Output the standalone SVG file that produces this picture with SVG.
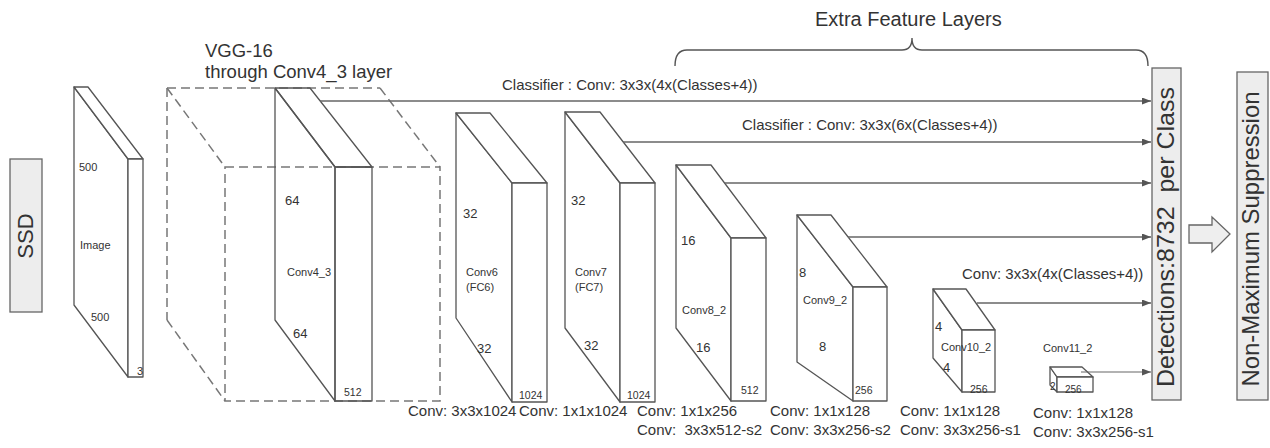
<svg xmlns="http://www.w3.org/2000/svg" width="1270" height="448" viewBox="0 0 1270 448">
  <style>
    text { font-family: "Liberation Sans", Arial, sans-serif; fill: #333; }
    .face { fill: #fff; stroke: #555; stroke-width: 1.3; stroke-linejoin: round; }
    .open { fill: none; stroke: #555; stroke-width: 1.3; stroke-linejoin: round; }
    .dash { fill: none; stroke: #777; stroke-width: 1.5; stroke-dasharray: 9 5; }
    .box { fill: #ededed; stroke: #666; stroke-width: 1.3; }
    .conn { fill: none; stroke: #666; stroke-width: 1.6; }
    .thin { fill: none; stroke: #666; stroke-width: 1.1; }
    .brace { fill: none; stroke: #555; stroke-width: 1.4; }
    .sm { font-size: 11px; }
    .dim { font-size: 13px; }
    .ch { font-size: 10.5px; }
    .lbl { font-size: 15px; }
    .big { font-size: 24px; }
  </style>
  <defs>
    <marker id="arrow" markerUnits="userSpaceOnUse" markerWidth="9" markerHeight="7" refX="9" refY="3.5" orient="auto">
      <path d="M0,0 L9,3.5 L0,7 z" fill="#555"/>
    </marker>
  </defs>

  <!-- SSD label box -->
  <g id="ssd">
    <rect class="box" x="10" y="159" width="32" height="153"/>
    <text transform="translate(33,236) rotate(-90)" text-anchor="middle" font-size="22">SSD</text>
  </g>

  <!-- input image slab -->
  <g id="image">
    <polygon class="face" points="74,87 128,159 128,377 74,305"/>
    <polygon class="face" points="74,87 88,87 143,159 128,159"/>
    <rect class="face" x="128" y="159" width="15" height="218"/>
    <text class="sm" x="79" y="171">500</text>
    <text class="sm" x="80" y="249">Image</text>
    <text class="sm" x="91" y="321">500</text>
    <text class="sm" x="137" y="375">3</text>
  </g>

  <!-- VGG-16 base network (dashed volume) -->
  <g id="vgg16">
    <text x="205" y="57" font-size="18.5">VGG-16</text>
    <text x="205" y="78" font-size="18.5">through Conv4_3 layer</text>
    <line class="dash" x1="167" y1="88" x2="380" y2="88"/>
    <line class="dash" x1="167" y1="88" x2="167" y2="320"/>
    <line class="dash" x1="167" y1="88" x2="225" y2="167"/>
    <line class="dash" x1="380" y1="88" x2="440" y2="167"/>
    <line class="dash" x1="167" y1="320" x2="225" y2="401"/>
    <rect class="dash" x="225" y="167" width="215" height="234"/>
  </g>

  <!-- Conv4_3 -->
  <g id="conv4_3">
    <polygon class="open" points="275,88 335,167 335,401 275,320"/>
    <polygon class="open" points="275,88 310,88 372,167 335,167"/>
    <rect class="open" x="335" y="167" width="37" height="234"/>
    <text class="dim" x="285" y="205">64</text>
    <text class="sm" x="287" y="276">Conv4_3</text>
    <text class="dim" x="293" y="338">64</text>
    <text class="ch" x="344" y="396">512</text>
  </g>

  <!-- Conv6 (FC6) -->
  <g id="conv6">
    <polygon class="face" points="456,113 512,183 512,402 456,318"/>
    <polygon class="face" points="456,113 490,113 547,183 512,183"/>
    <rect class="face" x="512" y="183" width="35" height="219"/>
    <text class="dim" x="463" y="218">32</text>
    <text class="sm" x="466" y="276">Conv6</text>
    <text class="sm" x="466" y="291">(FC6)</text>
    <text class="dim" x="477" y="353">32</text>
    <text class="ch" x="519" y="399">1024</text>
  </g>

  <!-- Conv7 (FC7) -->
  <g id="conv7">
    <polygon class="face" points="565,112 620,183 620,402 565,328"/>
    <polygon class="face" points="565,112 600,112 655,183 620,183"/>
    <rect class="face" x="620" y="183" width="35" height="219"/>
    <text class="dim" x="571" y="205">32</text>
    <text class="sm" x="575" y="276">Conv7</text>
    <text class="sm" x="575" y="291">(FC7)</text>
    <text class="dim" x="584" y="350">32</text>
    <text class="ch" x="627" y="399">1024</text>
  </g>

  <!-- Conv8_2 -->
  <g id="conv8_2">
    <polygon class="face" points="676,165 731,238 731,401 676,328"/>
    <polygon class="face" points="676,165 711,165 766,238 731,238"/>
    <rect class="face" x="731" y="238" width="35" height="163"/>
    <text class="dim" x="681" y="245">16</text>
    <text class="sm" x="682" y="314">Conv8_2</text>
    <text class="dim" x="696" y="352">16</text>
    <text class="ch" x="741" y="394">512</text>
  </g>

  <!-- Conv9_2 -->
  <g id="conv9_2">
    <polygon class="face" points="797,215 853,287 853,401 797,362"/>
    <polygon class="face" points="797,215 831,215 887,287 853,287"/>
    <rect class="face" x="853" y="287" width="34" height="114"/>
    <text class="dim" x="799" y="277">8</text>
    <text class="sm" x="803" y="304">Conv9_2</text>
    <text class="dim" x="819" y="351">8</text>
    <text class="ch" x="855" y="394">256</text>
  </g>

  <!-- Conv10_2 -->
  <g id="conv10_2">
    <polygon class="face" points="933,289 962,330 962,392 933,358"/>
    <polygon class="face" points="933,289 966,289 995,330 962,330"/>
    <rect class="face" x="962" y="330" width="33" height="62"/>
    <text class="dim" x="935" y="331">4</text>
    <text class="sm" x="941" y="351">Conv10_2</text>
    <text class="dim" x="943" y="372">4</text>
    <text class="ch" x="970" y="393">256</text>
  </g>

  <!-- Conv11_2 -->
  <g id="conv11_2">
    <text class="sm" x="1043" y="352">Conv11_2</text>
    <polygon class="face" points="1050,367 1057,377 1057,392 1050,385"/>
    <polygon class="face" points="1050,367 1082,367 1093,377 1057,377"/>
    <rect class="face" x="1057" y="377" width="36" height="15"/>
    <text font-size="10" x="1050" y="390">2</text>
    <text font-size="10" x="1065" y="393">256</text>
  </g>

  <!-- layer configuration labels -->
  <g id="conv-labels" class="lbl">
    <text class="lbl" x="408" y="416">Conv: 3x3x1024</text>
    <text class="lbl" x="519" y="416">Conv: 1x1x1024</text>
    <text class="lbl" x="637" y="416">Conv: 1x1x256</text>
    <text class="lbl" x="637" y="435" xml:space="preserve">Conv:  3x3x512-s2</text>
    <text class="lbl" x="770" y="416">Conv: 1x1x128</text>
    <text class="lbl" x="770" y="435">Conv: 3x3x256-s2</text>
    <text class="lbl" x="900" y="416">Conv: 1x1x128</text>
    <text class="lbl" x="900" y="435">Conv: 3x3x256-s1</text>
    <text class="lbl" x="1033" y="418">Conv: 1x1x128</text>
    <text class="lbl" x="1033" y="437">Conv: 3x3x256-s1</text>
  </g>

  <!-- extra feature layers brace -->
  <g id="extra-layers">
    <text x="815" y="26" font-size="20">Extra Feature Layers</text>
    <path class="brace" d="M675,66 Q675,50 687,50 L902,50 Q912,50 912,38 Q912,50 922,50 L1136,50 Q1148,50 1148,66"/>
  </g>

  <!-- classifier connectors to the detection stage -->
  <g id="connectors">
    <line class="conn" x1="320" y1="101" x2="1151" y2="101" marker-end="url(#arrow)"/>
    <line class="conn" x1="623" y1="142" x2="1151" y2="142" marker-end="url(#arrow)"/>
    <line class="conn" x1="725" y1="183" x2="1151" y2="183" marker-end="url(#arrow)"/>
    <line class="conn" x1="848" y1="237" x2="1151" y2="237" marker-end="url(#arrow)"/>
    <line class="conn" x1="977" y1="303" x2="1151" y2="303" marker-end="url(#arrow)"/>
    <line class="thin" x1="1081" y1="372" x2="1151" y2="372" marker-end="url(#arrow)"/>
    <text class="lbl" x="502" y="90">Classifier : Conv: 3x3x(4x(Classes+4))</text>
    <text class="lbl" x="742" y="130">Classifier : Conv: 3x3x(6x(Classes+4))</text>
    <text class="lbl" x="962" y="279">Conv: 3x3x(4x(Classes+4))</text>
  </g>

  <!-- detections per class -->
  <g id="detections">
    <rect class="box" x="1152" y="68" width="29" height="332"/>
    <text class="big" transform="translate(1174,237) rotate(-90)" text-anchor="middle" textLength="300" lengthAdjust="spacingAndGlyphs" xml:space="preserve">Detections:8732  per Class</text>
  </g>

  <!-- hollow arrow -->
  <g id="to-nms">
    <polygon points="1189,225 1212,225 1212,217 1230,234 1212,252 1212,243 1189,243" fill="#eeeeee" stroke="#666" stroke-width="1.3"/>
  </g>

  <!-- non-maximum suppression -->
  <g id="nms">
    <rect class="box" x="1237" y="72" width="31" height="328"/>
    <text class="big" transform="translate(1259,239) rotate(-90)" text-anchor="middle" textLength="295" lengthAdjust="spacingAndGlyphs">Non-Maximum Suppression</text>
  </g>
</svg>
